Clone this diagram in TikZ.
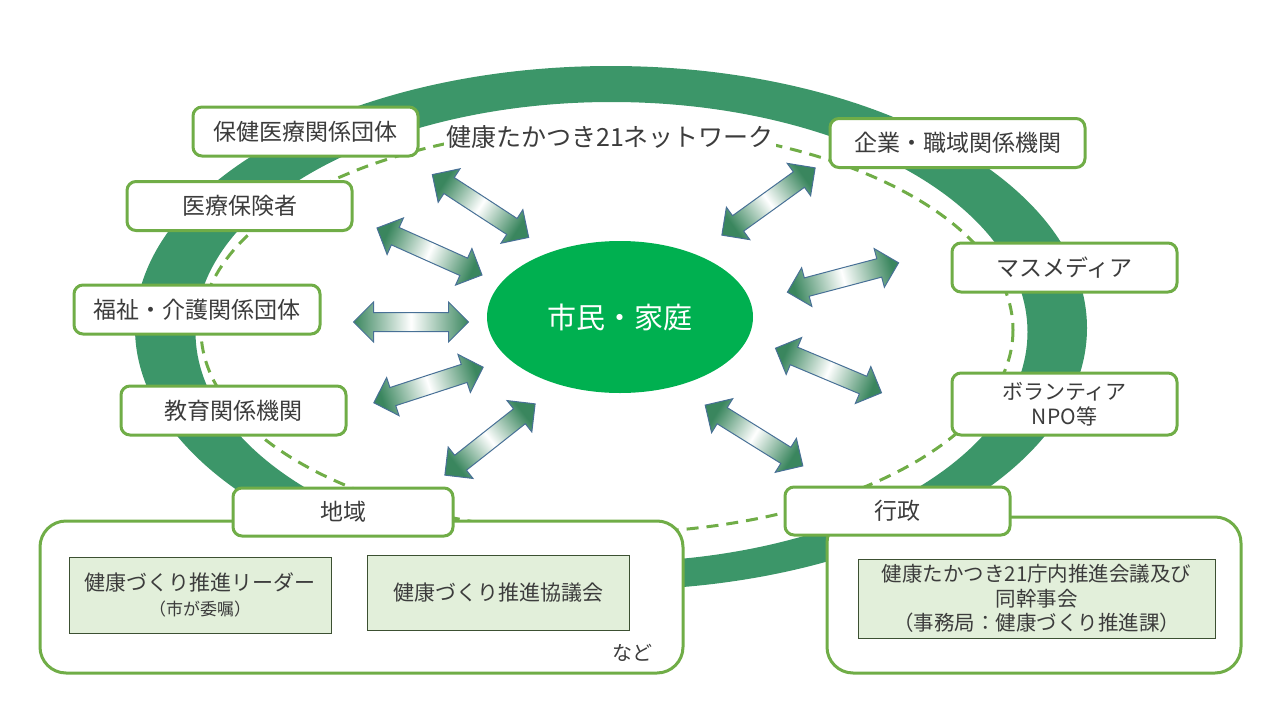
\documentclass[tikz,border=0pt]{standalone}
\usepackage{fontspec}
\setmainfont{Noto Sans CJK JP}
\usetikzlibrary{shapes.geometric}
\definecolor{ringgreen}{RGB}{60,150,105}
\definecolor{boxgreen}{RGB}{112,173,71}
\definecolor{centergreen}{RGB}{0,176,80}
\definecolor{memberfill}{RGB}{226,239,218}
\definecolor{memberline}{RGB}{60,80,50}
\definecolor{arrowgreen}{RGB}{58,134,94}
\definecolor{arrowline}{RGB}{72,112,150}
\definecolor{textgray}{RGB}{60,60,60}
\begin{document}
\begin{tikzpicture}[
    x=1pt, y=-1pt,
    every node/.style={align=center, text=textgray},
    netbox/.style={draw=boxgreen, line width=3, fill=white, rounded corners=9,
      minimum width=225, minimum height=49, font=\fontsize{23}{27}\selectfont},
    groupbox/.style={draw=boxgreen, line width=3, fill=white, rounded corners=26},
    memberbox/.style={draw=memberline, line width=1, fill=memberfill,
      font=\fontsize{21}{25}\selectfont},
    netline/.style={draw=boxgreen, line width=3, dash pattern=on 12 off 8},
    linkarrow/.style={draw=arrowline, line width=1, left color=arrowgreen,
      right color=arrowgreen, middle color=white},
    ]
\useasboundingbox (0,0) rectangle (1280,720);
% network ring
\fill[ringgreen, even odd rule] (611,328) ellipse [x radius=476, y radius=262]
  (611.5,332) ellipse [x radius=416, y radius=230];
\draw[netline] (607,330) ellipse [x radius=406, y radius=203];
\node[fill=white, inner sep=2, font=\fontsize{25}{30}\selectfont] (title) at (610,137) {健康たかつき21ネットワーク};
% arrows round the centre
\foreach \mx/\my/\a in {480.5/206/-33.1, 429.5/251.5/-24.1, 411/322/0, 428.5/385/18.0,
    490/439.5/38.3, 754/435.5/-31.9, 843/277.5/14.8, 768.5/201.5/35.8, 828.5/370.5/-22.8}{
  \pgfmathsetmacro\sa{\a+90}
  \shade[linkarrow, shading angle=\sa, shift={(\mx,\my)}, rotate=\a]
    (-57.5,0) -- (-37.5,-20) -- (-37.5,-9.5) -- (37.5,-9.5) -- (37.5,-20) -- (57.5,0)
    -- (37.5,20) -- (37.5,9.5) -- (-37.5,9.5) -- (-37.5,20) -- cycle;
}
\node[ellipse, fill=centergreen, minimum width=266, minimum height=152, inner sep=0,
  text=white, font=\fontsize{29}{34}\selectfont] (shimin) at (620,317) {市民・家庭};
% partners
\node[netbox] (hoken) at (305.5,131.5) {保健医療関係団体};
\node[netbox] (hokensha) at (239.5,206) {医療保険者};
\node[netbox, minimum width=246] (fukushi) at (197,309.5) {福祉・介護関係団体};
\node[netbox] (kyoiku) at (233.5,410.5) {教育関係機関};
\node[netbox, minimum width=255] (kigyo) at (957.5,143) {企業・職域関係機関};
\node[netbox] (media) at (1064.5,267.5) {マスメディア};
\node[netbox, minimum height=62, font=\fontsize{21}{25}\selectfont] (npo) at (1064.5,404) {ボランティア\\NPO等};
% community and city
\node[groupbox, minimum width=643, minimum height=152] (chiikiarea) at (361.5,597) {};
\node[groupbox, minimum width=414, minimum height=156] (gyoseiarea) at (1034,595) {};
\node[netbox, minimum width=220, minimum height=48] (chiiki) at (343,512) {地域};
\node[netbox, minimum height=48] (gyosei) at (897.5,511) {行政};
\node[memberbox, minimum width=262, minimum height=76] (leader) at (200,595)
  {健康づくり推進リーダー\\{\fontsize{17}{20}\selectfont （市が委嘱）}};
\node[memberbox, minimum width=262, minimum height=75] (kyogikai) at (498,592.5) {健康づくり推進協議会};
\node[memberbox, minimum width=357, minimum height=79, font=\fontsize{20.5}{24.5}\selectfont] (kaigi) at (1036.5,598.5)
  {健康たかつき21庁内推進会議及び\\同幹事会\\（事務局：健康づくり推進課）};
\node[font=\fontsize{20}{24}\selectfont] (nado) at (632,653) {など};
\end{tikzpicture}
\end{document}
